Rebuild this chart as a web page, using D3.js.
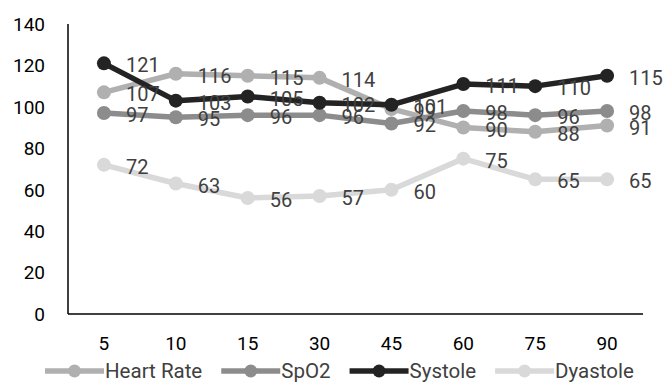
<!DOCTYPE html>
<html>
<head>
<meta charset="utf-8">
<script src="https://cdn.jsdelivr.net/npm/d3@7"></script>
<style>
  body { margin: 0; background: #fff; }
  text { font-family: Roboto, "Open Sans", sans-serif; }
</style>
</head>
<body>
<div id="chart-area"></div>
<script>
// Data
var minutes = ["5", "10", "15", "30", "45", "60", "75", "90"];
var heartRate = [107, 116, 115, 114, 99, 90, 88, 91];
var spo2 = [97, 95, 96, 96, 92, 98, 96, 98];
var systole = [121, 103, 105, 102, 101, 111, 110, 115];
var dyastole = [72, 63, 56, 57, 60, 75, 65, 65];
var yTicks = [0, 20, 40, 60, 80, 100, 120, 140];

var series = [
    { name: "Heart Rate", values: heartRate, color: "#b0b0b0" },
    { name: "SpO2", values: spo2, color: "#8c8c8c" },
    { name: "Systole", values: systole, color: "#232323" },
    { name: "Dyastole", values: dyastole, color: "#d9d9d9" }
];

var width = 666, height = 383;
var margin = { left: 68, right: 23, top: 24, bottom: 69 };

var svg = d3.select("#chart-area")
    .append("svg")
        .attr("width", width)
        .attr("height", height);

// X Scale
var x = d3.scaleBand()
    .domain(minutes)
    .range([margin.left, width - margin.right]);

// Y Scale
var y = d3.scaleLinear()
    .domain([0, 140])
    .range([height - margin.bottom, margin.top]);

function cx(i) { return x(minutes[i]) + x.bandwidth() / 2; }

// Axes lines
svg.append("line")
    .attr("x1", margin.left).attr("x2", margin.left)
    .attr("y1", margin.top).attr("y2", y(0))
    .attr("stroke", "#000").attr("stroke-width", 1.5);
svg.append("line")
    .attr("x1", margin.left).attr("x2", width - margin.right)
    .attr("y1", y(0)).attr("y2", y(0))
    .attr("stroke", "#000").attr("stroke-width", 1.5);

// Y tick labels
svg.selectAll(".ytick")
    .data(yTicks)
    .enter().append("text")
        .attr("class", "ytick")
        .attr("x", 45)
        .attr("y", function(d) { return y(d); })
        .attr("dy", "0.36em")
        .attr("text-anchor", "end")
        .attr("font-size", "19px")
        .attr("fill", "#000")
        .text(function(d) { return d; });

// X tick labels
svg.selectAll(".xtick")
    .data(minutes)
    .enter().append("text")
        .attr("class", "xtick")
        .attr("x", function(d) { return x(d) + x.bandwidth() / 2; })
        .attr("y", 343)
        .attr("dy", "0.36em")
        .attr("text-anchor", "middle")
        .attr("font-size", "19px")
        .attr("fill", "#000")
        .text(function(d) { return d; });

var line = d3.line()
    .x(function(d, i) { return cx(i); })
    .y(function(d) { return y(d); });

// Lines and markers
series.forEach(function(s) {
    var g = svg.append("g");
    g.append("path")
        .attr("d", line(s.values))
        .attr("fill", "none")
        .attr("stroke", s.color)
        .attr("stroke-width", 5.5)
        .attr("stroke-linejoin", "round");
    g.selectAll("circle")
        .data(s.values)
        .enter().append("circle")
            .attr("cx", function(d, i) { return cx(i); })
            .attr("cy", function(d) { return y(d); })
            .attr("r", 7)
            .attr("fill", s.color);
});

// Data labels
series.forEach(function(s) {
    svg.append("g").selectAll("text")
        .data(s.values)
        .enter().append("text")
            .attr("x", function(d, i) { return cx(i) + 22; })
            .attr("y", function(d) { return y(d); })
            .attr("dy", "0.45em")
            .attr("font-size", "20px")
            .attr("fill", "#404040")
            .text(function(d) { return d; });
});

// Legend
var legend = svg.append("g").attr("transform", "translate(45,371)");
var lx = 0;
series.forEach(function(s) {
    var item = legend.append("g").attr("transform", "translate(" + lx + ",0)");
    item.append("line")
        .attr("x1", 0).attr("x2", 59)
        .attr("stroke", s.color)
        .attr("stroke-width", 5.5);
    item.append("circle")
        .attr("cx", 29.5)
        .attr("r", 6.5)
        .attr("fill", s.color);
    var t = item.append("text")
        .attr("x", 60)
        .attr("dy", "0.36em")
        .attr("font-size", "20.5px")
        .attr("fill", "#404040")
        .text(s.name);
    lx += 60 + t.node().getComputedTextLength() + 19;
});
</script>
</body>
</html>
